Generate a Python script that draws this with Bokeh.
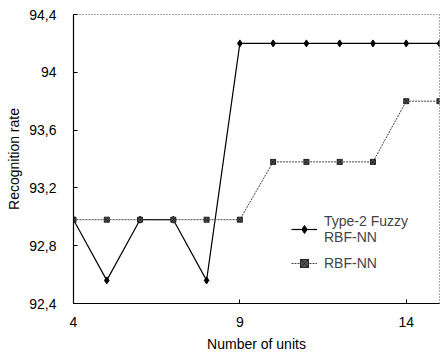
from bokeh.plotting import figure
from bokeh.models import Legend, LegendItem, FixedTicker, Range1d
from bokeh.embed import file_html
from bokeh.resources import INLINE

units = [4, 5, 6, 7, 8, 9, 10, 11, 12, 13, 14, 15]
type2_fuzzy = [92.98, 92.56, 92.98, 92.98, 92.56, 94.2, 94.2, 94.2, 94.2, 94.2, 94.2, 94.2]
rbf_nn = [92.98, 92.98, 92.98, 92.98, 92.98, 92.98, 93.38, 93.38, 93.38, 93.38, 93.8, 93.8]
x_ticks = [4, 9, 14]
y_ticks = [92.4, 92.8, 93.2, 93.6, 94.0, 94.4]
y_tick_labels = ["92,4", "92,8", "93,2", "93,6", "94", "94,4"]

FONT = "Liberation Sans"

p = figure(width=441, height=356, output_backend="svg", toolbar_location=None,
           x_range=Range1d(4, 15), y_range=Range1d(92.4, 94.4),
           min_border_left=73, min_border_right=2, min_border_top=14, min_border_bottom=53)
p.grid.visible = False
p.background_fill_color = "white"
p.outline_line_color = "#555555"
p.outline_line_dash = "1 2"
p.outline_line_width = 1

l1 = p.line(units, type2_fuzzy, line_color="black", line_width=1.2)
m1 = p.scatter(units, type2_fuzzy, marker="diamond", size=7, fill_color="black", line_color="black")
l2 = p.line(units, rbf_nn, line_color="#444444", line_width=1, line_dash="2 1")
m2 = p.scatter(units, rbf_nn, marker="square_x", size=5, fill_color="#555555", line_color="#222222")

for ax in (p.xaxis[0], p.yaxis[0]):
    ax.axis_line_color = "black"
    ax.axis_line_width = 1.2
    ax.major_tick_in = 4
    ax.major_tick_out = 0
    ax.minor_tick_in = 0
    ax.minor_tick_out = 0
    ax.major_label_text_font = FONT
    ax.major_label_text_font_size = "14px"
    ax.major_label_text_color = "black"
    ax.axis_label_text_font = FONT
    ax.axis_label_text_font_size = "14px"
    ax.axis_label_text_font_style = "normal"
    ax.axis_label_text_color = "black"

p.xaxis[0].ticker = FixedTicker(ticks=x_ticks)
p.yaxis[0].ticker = FixedTicker(ticks=y_ticks)
p.yaxis[0].major_label_overrides = {t: l for t, l in zip(y_ticks, y_tick_labels)}
p.xaxis[0].axis_label = "Number of units"
p.yaxis[0].axis_label = "Recognition rate"
p.xaxis[0].major_label_standoff = 13
p.xaxis[0].axis_label_standoff = 6
p.yaxis[0].major_label_standoff = 17
p.yaxis[0].axis_label_standoff = 4

legend = Legend(items=[LegendItem(label="Type-2 Fuzzy\nRBF-NN", renderers=[l1, m1]),
                       LegendItem(label="RBF-NN", renderers=[l2, m2])],
                location=(218, 30), border_line_color=None, background_fill_alpha=0,
                label_text_font=FONT, label_text_font_size="14px", glyph_width=26,
                spacing=8, padding=4, label_standoff=7, label_text_line_height=1.4)
p.add_layout(legend)

open("out.html", "w").write(file_html(p, INLINE))
